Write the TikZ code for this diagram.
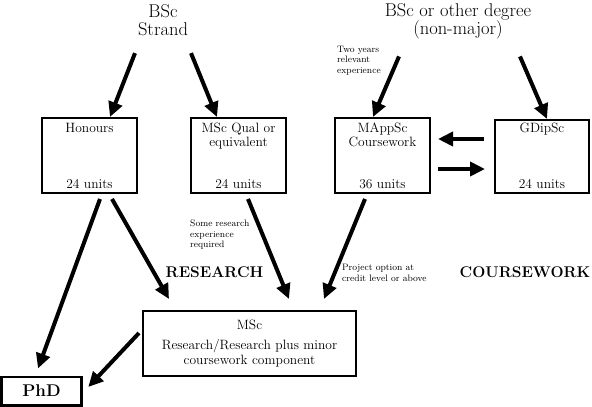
\documentclass[tikz,border=0pt]{standalone}
\usepackage{tikz}
\usetikzlibrary{arrows.meta,calc,positioning}
\colorlet{pathLine}{black}
\tikzset{
  pathbox/.style={
    rectangle, draw=pathLine, line width=2pt,
    minimum width=95pt, minimum height=75pt, inner sep=0pt,
    align=center, font=\fontsize{13.5}{14.5}\selectfont
  },
  pathtitle/.style={font=\fontsize{13.5}{14}\selectfont, align=center, inner sep=0pt},
  pathhead/.style={font=\fontsize{18.5}{18}\selectfont, align=center, inner sep=0pt},
  pathnote/.style={font=\fontsize{9.3}{10.5}\selectfont, align=left, inner sep=0pt},
  pathtag/.style={font=\fontsize{15.5}{16}\selectfont\bfseries, inner sep=0pt},
  patharrow/.style={-{Triangle[length=15pt,width=14pt]}, line width=4pt, draw=pathLine}
}

\begin{document}
\begin{tikzpicture}[x=1pt,y=-1pt]
  \useasboundingbox (0,0) rectangle (592,407);

  \node[pathhead, anchor=north] (strand) at (163,4.5) {BSc\\Strand};
  \node[pathhead, anchor=north] (other) at (458,3.5) {BSc or other degree\\(non-major)};

  \node[pathbox] (hon) at (89.5,155.5) {};
  \node[pathbox] (qual) at (238.5,155.5) {};
  \node[pathbox] (mapp) at (382.5,155.5) {};
  \node[pathbox, minimum width=94pt, minimum height=73pt] (gdip) at (542,156.5) {};
  \node[pathbox, minimum width=213pt, minimum height=65pt] (msc) at (249.5,343.5)
    {MSc\\[6pt]Research/Research plus minor\\coursework component};
  \node[pathbox, minimum width=80pt, minimum height=28.5pt, line width=2.5pt,
    font=\fontsize{17}{18}\selectfont\bfseries] (phd) at (41.5,391) {PhD};

  \node[pathtitle, below=6pt of hon.north] (honname) {Honours};
  \node[pathtitle, above=5pt of hon.south] (honunits) {24 units};
  \node[pathtitle, below=6pt of qual.north] (qualname) {MSc Qual or\\equivalent};
  \node[pathtitle, above=5pt of qual.south] (qualunits) {24 units};
  \node[pathtitle, below=6pt of mapp.north] (mappname) {MAppSc\\Coursework};
  \node[pathtitle, above=5pt of mapp.south] (mappunits) {36 units};
  \node[pathtitle, below=4pt of gdip.north] (gdipname) {GDipSc};
  \node[pathtitle, above=5pt of gdip.south] (gdipunits) {24 units};

  \node[pathnote, anchor=north west] (twoyrs) at (337,46) {Two years\\relevant\\experience};
  \node[pathnote, anchor=north west] (someres) at (190,220) {Some research\\experience\\required};
  \node[pathtag] (research) at (214.5,272) {RESEARCH};
  \node[pathnote, anchor=north west] (project) at (342,264) {Project option at\\credit level or above};
  \node[pathtag] (coursework) at (525,272) {COURSEWORK};

  \draw[patharrow] ($(strand.south)+(-28,17)$) -- ($(hon.north)+(20.5,0)$);
  \draw[patharrow] ($(strand.south)+(28,17)$) -- ($(qual.north)+(-21.5,0)$);
  \draw[patharrow] ($(other.south)+(-59,17)$) -- ($(mapp.north)+(-9.5,0)$);
  \draw[patharrow] ($(other.south)+(62,17)$) -- ($(gdip.north)+(5,0)$);

  \draw[patharrow] ($(gdip.west)+(-10,-17.5)$) -- ($(mapp.east)+(7,-16.5)$);
  \draw[patharrow] ($(mapp.east)+(7,13.5)$) -- ($(gdip.west)+(-9,12.5)$);

  \draw[patharrow] ($(hon.south)+(10.5,5)$) -- ($(phd.north)+(-3.5,-7)$);
  \draw[patharrow] ($(hon.south)+(22.5,5)$) -- ($(msc.north west)+(27,-11)$);
  \draw[patharrow] ($(qual.south)+(9.5,5)$) -- ($(msc.north)+(39.5,-11)$);
  \draw[patharrow] ($(mapp.south)+(-17.5,5)$) -- ($(msc.north east)+(-33,-11)$);
  \draw[patharrow] ($(msc.west)+(-3,-10.5)$) -- ($(phd.east)+(5.5,-4)$);
\end{tikzpicture}
\end{document}
